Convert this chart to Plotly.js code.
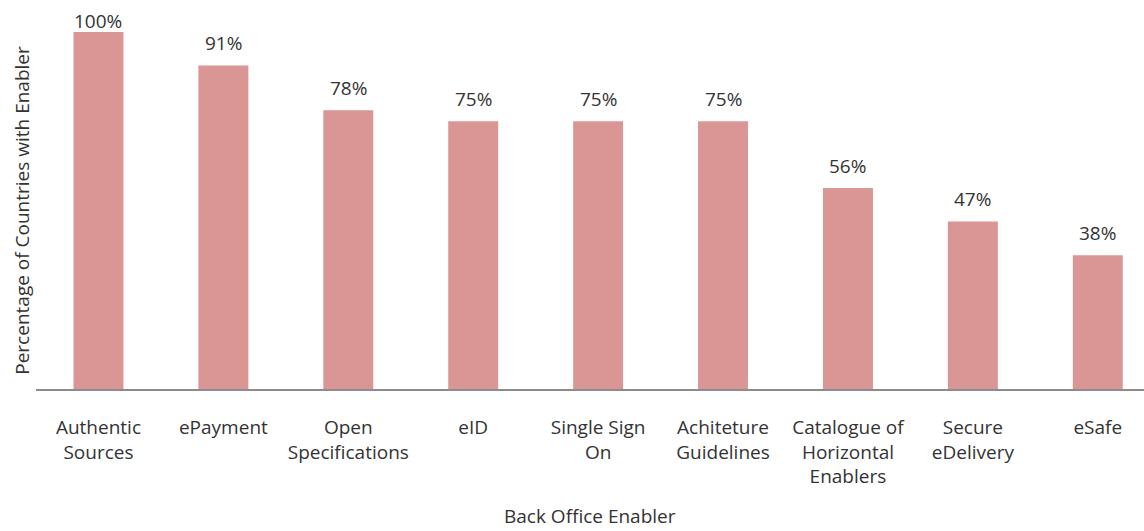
<!DOCTYPE html>
<html><head><meta charset="utf-8">
<script src="https://cdn.plot.ly/plotly-3.0.1.min.js"></script>
<style>html,body{margin:0;padding:0;background:#fff}#chart{width:1144px;height:531px}</style>
</head><body><div id="chart"></div>
<script>
const categories = ["Authentic<br>Sources","ePayment","Open<br>Specifications","eID","Single Sign<br>On","Achiteture<br>Guidelines","Catalogue of<br>Horizontal<br>Enablers","Secure<br>eDelivery","eSafe"];
const values = [100, 90.6, 78.1, 75, 75, 75, 56.3, 46.9, 37.5];
const labels = ["100%","91%","78%","75%","75%","75%","56%","47%","38%"];
const xTitle = "Back Office Enabler";
const yTitle = "Percentage of Countries with Enabler";
const xs = categories.map((c, i) => i);

const FONT = "'Open Sans', Lato, sans-serif";
const TXT = "#333333";

const annotations = values.map((v, i) => ({
  x: i, y: Math.min(v + 2.0, 98.9), xref: 'x', yref: 'y',
  text: labels[i], showarrow: false, yanchor: 'bottom',
  font: {family: FONT, size: 19, color: TXT}
}));
annotations.push({
  x: 0.5, y: -0.357, xref: 'paper', yref: 'paper', yanchor: 'middle',
  text: xTitle, showarrow: false, font: {family: FONT, size: 19, color: TXT}
});

Plotly.newPlot('chart', [{
  type: 'bar', x: xs, y: values, width: 0.4,
  marker: {color: '#D99694'}, hoverinfo: 'none'
}], {
  width: 1144, height: 531,
  margin: {l: 36, r: 0, t: 32, b: 142},
  paper_bgcolor: '#fff', plot_bgcolor: '#fff',
  showlegend: false,
  xaxis: {
    range: [-0.5, 8.37], tickvals: xs, ticktext: categories,
    showgrid: false, zeroline: false,
    showline: true, linecolor: '#8c8c8c', linewidth: 2,
    ticks: 'outside', ticklen: 20, tickcolor: 'rgba(0,0,0,0)',
    tickfont: {family: FONT, size: 19, color: TXT},
    automargin: false
  },
  yaxis: {
    range: [0, 100], showgrid: false, zeroline: false, showline: false,
    showticklabels: false, ticks: '',
    title: {text: yTitle, font: {family: FONT, size: 19, color: TXT}, standoff: 0},
    automargin: false
  },
  annotations: annotations
}, {staticPlot: true});
</script></body></html>
